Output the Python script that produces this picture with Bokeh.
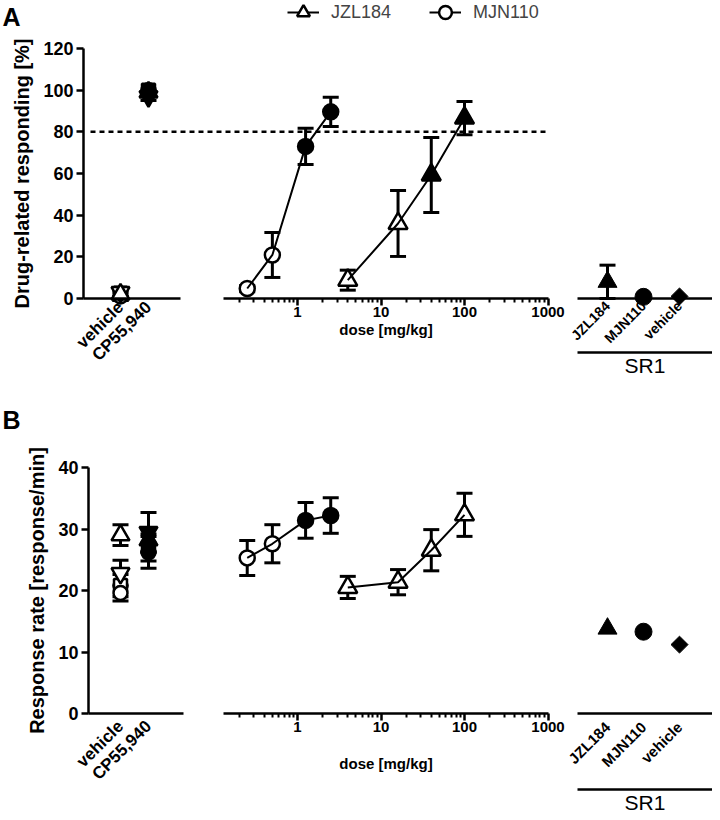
import math
from bokeh.plotting import figure
from bokeh.models import (Range1d, LinearAxis, LogAxis, FixedTicker, ColumnDataSource, Grid,
                          Whisker, TeeHead, Legend, LegendItem, Label, LogScale, LinearScale)
from bokeh.layouts import column
from bokeh.embed import file_html
from bokeh.resources import INLINE
from bokeh.core.properties import value

# ---------------- data ----------------
control_groups = ["vehicle", "CP55,940"]
control_is_drug = [False, True]

# panel A: drug-related responding [%] (mean, SEM)
ctrlA_tri = [2.0, 99.0]
ctrlA_tri_err = [3.0, 1.0]
ctrlA_circ = [1.0, 100.0]
ctrlA_circ_err = [2.0, 0.0]
ctrlA_inv = [3.0, 97.0]
ctrlA_inv_err = [2.0, 2.0]
ctrlA_sq = [2.5, 100.0]
ctrlA_sq_err = [2.5, 0.0]

# panel B: response rate [response/min]
ctrlB_tri = [29.0, 28.2]
ctrlB_tri_err = [1.7, 2.0]
ctrlB_circ = [19.6, 26.2]
ctrlB_circ_err = [1.3, 2.6]
ctrlB_inv = [22.8, 29.5]
ctrlB_inv_err = [2.1, 3.2]
ctrlB_sq = [20.8, 27.0]
ctrlB_sq_err = [1.8, 2.2]

mjn_dose = [0.25, 0.5, 1.25, 2.5]
mjn_A = [4.8, 20.9, 73.0, 89.6]
mjn_A_err = [1.5, 10.8, 8.7, 7.0]
mjn_A_sig = [False, False, True, True]
mjn_B = [25.3, 27.6, 31.4, 32.2]
mjn_B_err = [2.85, 3.1, 2.9, 2.9]
mjn_B_sig = [False, False, True, True]

jzl_dose = [4, 16, 40, 100]
jzl_A = [8.8, 36.0, 59.3, 86.6]
jzl_A_err = [4.8, 15.8, 18.0, 8.0]
jzl_A_sig = [False, False, True, True]
jzl_B = [20.5, 21.35, 26.55, 32.3]
jzl_B_err = [1.8, 2.05, 3.35, 3.5]
jzl_B_sig = [False, False, False, False]

dose_ticks = [1, 10, 100, 1000]
dose_tick_labels = ["1", "10", "100", "1000"]

sr1_groups = ["JZL184", "MJN110", "vehicle"]
sr1_A = [8.0, 0.8, 1.0]
sr1_A_err = [8.0, 0.0, 0.0]
sr1_B = [13.8, 13.3, 11.2]
sr1_B_err = [0.0, 0.0, 0.0]

criterion = 80
yA_ticks = [0, 20, 40, 60, 80, 100, 120]
yB_ticks = [0, 10, 20, 30, 40]

# ---------------- geometry (screen px) ----------------
FONT = "Liberation Sans"
W = 712
LEFT_PX = 0
CAT_UNIT, CAT_FIRST = 28.0, 120.0
DEC_PX, ONE_PX = 83.5, 297.0
SR_UNIT, SR_FIRST = 36.0, 607.0


def cat_x(px):
    return (px - CAT_FIRST) / CAT_UNIT


def dose_x(px):
    return 10 ** ((px - ONE_PX) / DEC_PX)


def sr_x(px):
    return (px - SR_FIRST) / SR_UNIT


def style_axis(ax, label_size="18px"):
    ax.axis_line_width = 2.5
    ax.axis_line_color = "black"
    ax.major_tick_line_width = 2.5
    ax.major_tick_line_color = "black"
    ax.minor_tick_line_width = 2
    ax.minor_tick_line_color = "black"
    ax.major_label_text_font = FONT
    ax.major_label_text_font_style = "bold"
    ax.major_label_text_font_size = label_size
    ax.major_label_text_color = "black"
    ax.axis_label_text_font = FONT
    ax.axis_label_text_font_style = "bold"
    ax.axis_label_text_color = "black"


def errorbars(p, xs, ys, errs, range_name="default"):
    keep = [i for i, e in enumerate(errs) if e > 0]
    if not keep:
        return
    src = ColumnDataSource(dict(x=[xs[i] for i in keep],
                                lower=[ys[i] - errs[i] for i in keep],
                                upper=[ys[i] + errs[i] for i in keep]))
    w = Whisker(source=src, base="x", upper="upper", lower="lower",
                line_width=3, line_color="black",
                upper_head=TeeHead(size=16, line_width=3, line_color="black"),
                lower_head=TeeHead(size=16, line_width=3, line_color="black"),
                x_range_name=range_name, level="underlay")
    p.add_layout(w)


def markers(p, xs, ys, marker, size, filled, range_name="default", lw=2.5, angle=0.0):
    src = ColumnDataSource(dict(x=xs, y=ys, fill=["black" if f else "white" for f in filled]))
    return p.scatter("x", "y", source=src, marker=marker, size=size, fill_color="fill",
                     line_color="black", line_width=lw, x_range_name=range_name, angle=angle)


def panel(letter, top_px, height, zero_px, unit_px, yticks, ylabel, cat_bounds_px,
          ctrl, mjn, mjn_err, mjn_sig, jzl, jzl_err, jzl_sig, sr1, sr1_err,
          sr1_line_px, dose_label_standoff, cat_standoff, sr_standoff, sr_font, ylabel_standoff,
          letter_top, with_legend):
    p = figure(width=W, height=height, output_backend="svg", toolbar_location=None,
               x_axis_location=None, y_axis_location=None, min_border=0,
               x_range=Range1d(cat_x(LEFT_PX), cat_x(LEFT_PX + W)),
               y_range=Range1d((zero_px - (top_px + height)) / unit_px, (zero_px - top_px) / unit_px))
    for r in list(p.center):
        if isinstance(r, Grid):
            r.visible = False
    p.extra_x_ranges = {"dose": Range1d(dose_x(LEFT_PX), dose_x(LEFT_PX + W)),
                        "sr1": Range1d(sr_x(LEFT_PX), sr_x(LEFT_PX + W))}
    p.extra_x_scales = {"dose": LogScale(), "sr1": LinearScale()}
    p.outline_line_color = None
    p.background_fill_color = "white"
    p.border_fill_color = "white"

    cat_bounds = (cat_x(cat_bounds_px[0]), cat_x(cat_bounds_px[1]))

    # y axis
    ya = LinearAxis(fixed_location=cat_bounds[0], bounds=(yticks[0], yticks[-1]),
                    ticker=FixedTicker(ticks=yticks), axis_label=ylabel)
    style_axis(ya, "18px")
    ya.major_tick_out = 7
    ya.major_tick_in = 0
    ya.major_label_standoff = 3
    ya.axis_label_text_font_size = "20px"
    ya.axis_label_standoff = ylabel_standoff
    p.add_layout(ya, "left")

    # control groups axis
    ca = LinearAxis(fixed_location=0, bounds=cat_bounds,
                    ticker=FixedTicker(ticks=list(range(len(control_groups)))),
                    major_label_overrides={i: g for i, g in enumerate(control_groups)})
    style_axis(ca, "17px")
    ca.major_tick_out = 0
    ca.major_tick_in = 0
    ca.major_label_orientation = math.pi / 4
    ca.major_label_standoff = cat_standoff
    p.add_layout(ca, "below")

    # dose axis (log)
    minor = [m * 10.0 ** e for e in range(-1, 3) for m in range(2, 10)]
    da = LogAxis(x_range_name="dose", fixed_location=0, bounds=(dose_x(223), dose_ticks[-1]),
                 ticker=FixedTicker(ticks=dose_ticks, minor_ticks=minor),
                 major_label_overrides={t: l for t, l in zip(dose_ticks, dose_tick_labels)},
                 axis_label="dose [mg/kg]")
    style_axis(da, "15px")
    da.major_tick_out = 7
    da.major_tick_in = 0
    da.minor_tick_out = 4
    da.minor_tick_in = 0
    da.major_label_standoff = 1
    da.axis_label_text_font_size = "15px"
    da.axis_label_standoff = dose_label_standoff
    p.add_layout(da, "below")

    # SR1 axis
    sr_bounds = (sr_x(577), sr_x(718))
    sa = LinearAxis(x_range_name="sr1", fixed_location=0, bounds=sr_bounds,
                    ticker=FixedTicker(ticks=list(range(len(sr1_groups)))),
                    major_label_overrides={i: g for i, g in enumerate(sr1_groups)})
    style_axis(sa, sr_font)
    sa.major_tick_out = 0
    sa.major_tick_in = 0
    sa.major_label_orientation = math.pi / 4
    sa.major_label_standoff = sr_standoff
    p.add_layout(sa, "below")

    sb = LinearAxis(x_range_name="sr1", fixed_location=(zero_px - sr1_line_px) / unit_px,
                    bounds=sr_bounds, ticker=FixedTicker(ticks=[]), axis_label="SR1")
    style_axis(sb, "17px")
    sb.major_tick_out = 0
    sb.major_tick_in = 0
    sb.axis_label_text_font_style = "normal"
    sb.axis_label_text_font_size = "21px"
    sb.axis_label_standoff = 1
    p.add_layout(sb, "below")

    # criterion line (panel A)
    if with_legend:
        p.segment(x0=[dose_x(90)], x1=[dose_ticks[-1]], y0=[criterion], y1=[criterion],
                  x_range_name="dose", line_color="black", line_width=2.5, line_dash="5 4")

    # control groups
    cx = list(range(len(control_groups)))
    (tri, tri_e), (circ, circ_e), (inv, inv_e), (sq, sq_e) = ctrl
    for vals, errs in ((sq, sq_e), (circ, circ_e), (inv, inv_e), (tri, tri_e)):
        errorbars(p, cx, vals, errs)
    markers(p, cx, sq, "square", 13, control_is_drug)
    markers(p, cx, circ, "circle", 14, control_is_drug)
    markers(p, cx, inv, "inverted_triangle", 18, control_is_drug)
    markers(p, cx, tri, "triangle", 18, control_is_drug)

    # dose-response
    errorbars(p, mjn_dose, mjn, mjn_err, "dose")
    errorbars(p, jzl_dose, jzl, jzl_err, "dose")
    mjn_sc = markers(p, mjn_dose, mjn, "circle", 15, mjn_sig, "dose")
    jzl_sc = markers(p, jzl_dose, jzl, "triangle", 19, jzl_sig, "dose")
    mjn_ln = p.line(mjn_dose, mjn, x_range_name="dose", line_color="black", line_width=2)
    jzl_ln = p.line(jzl_dose, jzl, x_range_name="dose", line_color="black", line_width=2)

    # SR1 antagonism
    sx = list(range(len(sr1_groups)))
    errorbars(p, sx, sr1, sr1_err, "sr1")
    markers(p, sx[0:1], sr1[0:1], "triangle", 19, [True], "sr1", lw=1)
    markers(p, sx[1:2], sr1[1:2], "circle", 17, [True], "sr1", lw=1)
    markers(p, sx[2:3], sr1[2:3], "square", 12, [True], "sr1", lw=1, angle=math.pi / 4)

    p.add_layout(Label(x=2, y=height - letter_top, x_units="screen", y_units="screen", text=letter,
                       text_font=FONT, text_font_style="bold", text_font_size="25px",
                       text_baseline="top", text_color="black"))

    if with_legend:
        leg = Legend(items=[LegendItem(label=value("JZL184"), renderers=[jzl_ln, jzl_sc], index=0),
                            LegendItem(label=value("MJN110"), renderers=[mjn_ln, mjn_sc], index=0)],
                     location=(287 - LEFT_PX, height - 29), orientation="horizontal",
                     label_text_font=FONT, label_text_font_size="18px",
                     glyph_width=32, glyph_height=34, label_standoff=12, spacing=38,
                     padding=0, margin=0, border_line_color=None,
                     background_fill_alpha=0)
        p.add_layout(leg)
    return p


pA = panel("A", 0, 400, 298.0, 250.0 / 120.0, yA_ticks, "Drug-related responding [%]", (83, 180),
           ((ctrlA_tri, ctrlA_tri_err), (ctrlA_circ, ctrlA_circ_err),
            (ctrlA_inv, ctrlA_inv_err), (ctrlA_sq, ctrlA_sq_err)),
           mjn_A, mjn_A_err, mjn_A_sig, jzl_A, jzl_A_err, jzl_A_sig, sr1_A, sr1_A_err,
           352, 1, 6, 5, "14px", 7, 2, True)

pB = panel("B", 400, 412, 713.0, 246.0 / 40.0, yB_ticks, "Response rate [response/min]", (88, 183),
           ((ctrlB_tri, ctrlB_tri_err), (ctrlB_circ, ctrlB_circ_err),
            (ctrlB_inv, ctrlB_inv_err), (ctrlB_sq, ctrlB_sq_err)),
           mjn_B, mjn_B_err, mjn_B_sig, jzl_B, jzl_B_err, jzl_B_sig, sr1_B, sr1_B_err,
           789, 20, 10, 11, "15px", 7, 5, False)

layout = column(pA, pB, spacing=0)
open("out.html", "w").write(file_html(layout, INLINE))
